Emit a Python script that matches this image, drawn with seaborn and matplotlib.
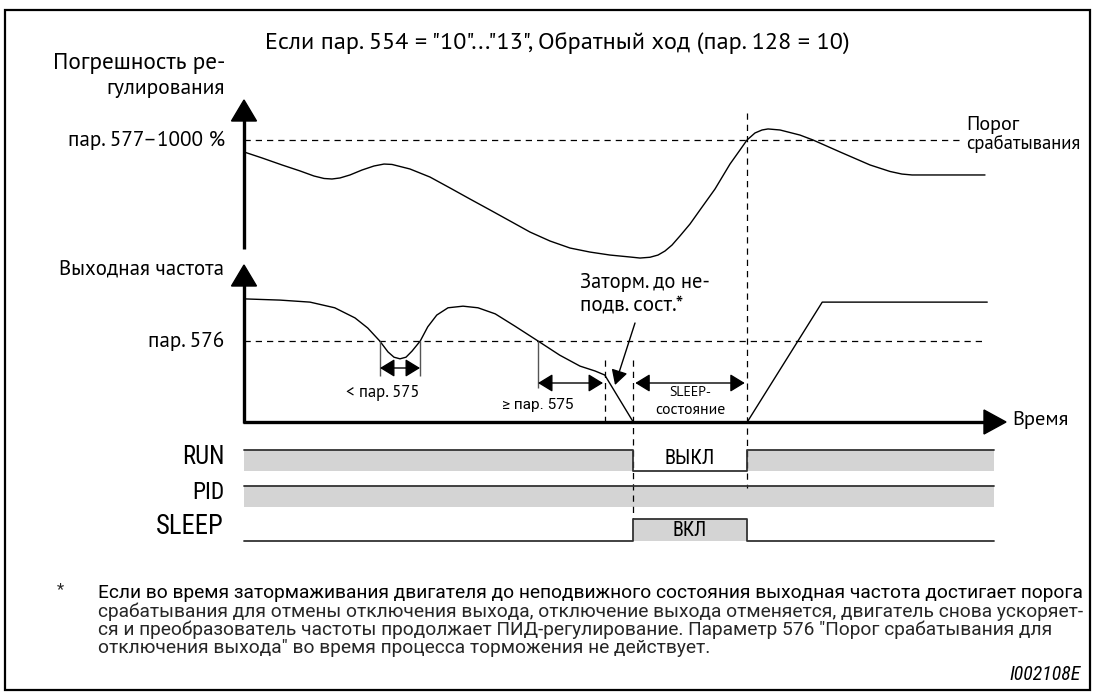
import matplotlib
matplotlib.use("Agg")
import matplotlib.pyplot as plt
from matplotlib.patches import Polygon, Rectangle
from matplotlib import font_manager
import seaborn as sns

# ---------------- data ----------------
dev_time = [0, 2.4, 5.07, 7.47, 9.33, 10.67, 11.73, 12.8, 14.13, 15.73, 17.33, 18.67, 19.73, 22.13,
            24.8, 27.47, 30.13, 32.8, 35.47, 38.13, 40.8, 43.47, 46.13, 48.8, 51.47, 52.8, 54.13,
            55.2, 56.13, 57.07, 58.13, 59.47, 60.8, 62.8, 64.8, 66.13, 67.07, 68.13, 69.07, 69.87,
            71.47, 74.13, 75.87, 79.47, 83.47, 86.13, 87.73, 89.07, 98.8]
dev_value = [90.8, 86.2, 80.8, 76.2, 72.3, 70.4, 70.0, 70.8, 73.1, 76.9, 80.0, 81.5, 81.2, 77.7,
             71.5, 63.1, 54.6, 46.2, 37.7, 29.2, 22.3, 16.9, 13.8, 11.5, 10.0, 9.2, 9.8,
             11.5, 14.6, 19.2, 26.2, 35.4, 46.2, 62.3, 81.5, 92.3, 100, 105.4, 107.7, 108.5,
             107.7, 103.8, 100, 90.8, 80.8, 75.8, 73.8, 73.1, 73.1]
freq_time = [0, 4.8, 8.8, 12.1, 14.8, 16.5, 18.1, 19.2, 20.0, 20.8, 21.6, 22.4, 23.5, 24.5, 25.7,
             27.2, 29.2, 31.2, 33.5, 36.1, 39.2, 42.1, 44.8, 46.8, 48.1, 51.9, 67.1, 77.1, 99.1]
freq_value = [30.4, 30.1, 29.6, 28.2, 25.7, 23.2, 20.0, 17.3, 16.0, 15.6, 16.0, 17.5, 20.0, 23.5, 26.4,
              28.2, 28.6, 28.2, 26.7, 23.7, 20.0, 16.5, 13.8, 12.6, 11.6, 0, 0, 29.6, 29.6]
dev_threshold = 100
freq_threshold = 20
short_dip = [18.13, 23.47]
long_dip = [39.2, 47.87]
t_decel, t_stop, t_restart = 48.13, 51.87, 67.07
signal_edges = [0, 51.87, 67.07, 100]
run_state = [1, 0, 1]
pid_state = [1, 1, 1]
sleep_state = [0, 1, 0]
signal_names = ["RUN", "PID", "SLEEP"]
state_labels = ["ВЫКЛ", "", "ВКЛ"]

title = 'Если пар. 554 = "10"..."13", Обратный ход (пар. 128 = 10)'
footnote = [
    "Если во время затормаживания двигателя до неподвижного состояния выходная частота достигает порога",
    "срабатывания для отмены отключения выхода, отключение выхода отменяется, двигатель снова ускоряет-",
    "ся и преобразователь частоты продолжает ПИД-регулирование. Параметр 576 \"Порог срабатывания для",
    "отключения выхода\" во время процесса торможения не действует.",
]

# ---------------- layout ----------------
W, H = 1095, 695
T0, PXT = 244, 7.5
V0, PXV = 270, 1.3
F0, PXF = 422, 4.05

sns.set_theme(style="white")
names = {f.name for f in font_manager.fontManager.ttflist}


def pick(cands, default):
    for c in cands:
        if c in names:
            return c
    return default


MAIN = pick(["PT Sans", "Fira Sans", "Roboto"], "DejaVu Sans")
NOTE = pick(["Roboto", "Open Sans"], "DejaVu Sans")
HELVN = pick(["Roboto Condensed", "Archivo Narrow", "Fira Sans Condensed"], MAIN)
plt.rcParams["font.family"] = [MAIN, "DejaVu Sans"]

fig = plt.figure(figsize=(W / 100, H / 100), dpi=100)
fig.patch.set_facecolor("white")


def full_axes(z):
    ax = fig.add_axes([0, 0, 1, 1])
    ax.axis("off")
    ax.patch.set_alpha(0)
    ax.set_zorder(z)
    return ax


tlim = (-T0 / PXT, (W - T0) / PXT)
ax_tl = full_axes(1)
ax_dev = full_axes(2)
ax_f = full_axes(3)
ax_px = full_axes(4)

sns.lineplot(x=dev_time, y=dev_value, ax=ax_dev, color="black", linewidth=1.0,
             sort=False, estimator=None)
sns.lineplot(x=freq_time, y=freq_value, ax=ax_f, color="black", linewidth=1.0,
             sort=False, estimator=None)

DASH = dict(color="black", linewidth=0.9, linestyles=(0, (5, 4)))
ax_dev.hlines(dev_threshold, 0, (959 - T0) / PXT, **DASH)
ax_f.hlines(freq_threshold, 0, (982 - T0) / PXT, **DASH)
ax_tl.vlines(t_restart, 113, 488, **DASH)
ax_tl.vlines(t_stop, 360, 519, **DASH)
ax_tl.vlines(t_decel, 360, F0, **DASH)

ax_f.vlines(short_dip, (F0 - 376) / PXF, freq_threshold, color="#555555", linewidth=1.0)
ax_f.vlines(long_dip[0], (F0 - 388) / PXF, freq_threshold, color="#555555", linewidth=1.0)
ARW = dict(arrowstyle="<|-|>,head_length=0.9,head_width=0.55", color="black", lw=1.0,
           shrinkA=0, shrinkB=0, mutation_scale=10)
ax_f.annotate("", xy=(short_dip[0], (F0 - 368) / PXF), xytext=(short_dip[1], (F0 - 368) / PXF),
              arrowprops=ARW)
ax_f.annotate("", xy=(long_dip[0], (F0 - 383) / PXF), xytext=(long_dip[1], (F0 - 383) / PXF),
              arrowprops=ARW)
ax_tl.annotate("", xy=(t_stop + 0.3, 383), xytext=(t_restart - 0.3, 383), arrowprops=ARW)
ax_px.annotate("", xy=(615, 385), xytext=(635, 323),
               arrowprops=dict(arrowstyle="-|>,head_length=0.9,head_width=0.5", color="black",
                               lw=1.0, shrinkA=0, shrinkB=0, mutation_scale=10))

AX = dict(color="black", linewidth=2.4, solid_capstyle="butt")
ax_px.plot([T0, T0], [249, 120], **AX)
ax_px.add_patch(Polygon([(T0 - 12.5, 121), (T0 + 12.5, 121), (T0, 100)], closed=True, color="black"))
ax_px.plot([T0, T0], [F0 + 1, 285], **AX)
ax_px.add_patch(Polygon([(T0 - 12.5, 286), (T0 + 12.5, 286), (T0, 265)], closed=True, color="black"))
ax_px.plot([T0 - 1, 985], [F0, F0], **AX)
ax_px.add_patch(Polygon([(984, F0 - 12), (984, F0 + 12), (1006, F0)], closed=True, color="black"))

lanes = [(450, 471), (486, 507), (519, 541)]
for (hi, lo), states in zip(lanes, [run_state, pid_state, sleep_state]):
    xs, ys = [], []
    for i, s in enumerate(states):
        row = hi if s else lo
        xs += [signal_edges[i], signal_edges[i + 1]]
        ys += [row, row]
    ax_tl.fill_between(xs, ys, lo, color="#d4d4d4", linewidth=0)
    ax_tl.plot(xs, ys, color="#333333", linewidth=1.3)

ax_px.add_patch(Rectangle((5, 10), 1085, 680, fill=False, linewidth=1.6, edgecolor="black"))

for ax in (ax_tl, ax_dev, ax_f):
    ax.set_xlim(*tlim)
ax_px.set_xlim(0, W)
ax_px.set_ylim(H, 0)
ax_tl.set_ylim(H, 0)
ax_dev.set_ylim((V0 - H) / PXV, V0 / PXV)
ax_f.set_ylim((F0 - H) / PXF, F0 / PXF)

fig.canvas.draw()
renderer = fig.canvas.get_renderer()


def put(x, y, s, width, ha="left", va="center", size=12, fam=None, **kw):
    fam = fam or MAIN
    t = ax_px.text(x, y, s, ha=ha, va=va, fontsize=size, color="black",
                   family=[fam, "DejaVu Sans"], **kw)
    bb = t.get_window_extent(renderer)
    t.set_fontsize(size * width / bb.width)
    return t


put(557, 43, title, 585, ha="center")
put(225, 64, "Погрешность ре-", 172, ha="right")
put(225, 89, "гулирования", 118, ha="right")
put(225, 140, "пар. 577–1000 %", 158, ha="right")
put(966, 125, "Порог", 53)
put(966, 144, "срабатывания", 114)
put(224, 269, "Выходная частота", 164, ha="right")
put(224, 341, "пар. 576", 76, ha="right")
put(383, 393, "< пар. 575", 73, ha="center")
put(538, 405, "≥ пар. 575", 71, ha="center", fam=NOTE)
put(580, 283, "Заторм. до не-", 130)
put(580, 305, "подв. сост.*", 104)
put(690, 393, "SLEEP-", 42, ha="center")
put(690, 410, "состояние", 70, ha="center")
put(1012, 420, "Время", 56)
for name, (hi, lo) in zip(signal_names, lanes):
    put(224, (hi + lo) / 2 - 4, name, {"RUN": 42, "PID": 32, "SLEEP": 67}[name], ha="right",
        fam=HELVN)
put(690, 458, state_labels[0], 50, ha="center", fam=HELVN)
put(690, 531, state_labels[2], 34, ha="center", fam=HELVN)

ax_px.text(57, 590, "*", ha="left", va="center", fontsize=12, family=[NOTE, "DejaVu Sans"])
t0 = put(98, 593, footnote[0], 983, fam=NOTE)
fs = t0.get_fontsize()
for i, line in enumerate(footnote[1:], start=1):
    ax_px.text(98, 593 + 18.3 * i, line, ha="left", va="center", fontsize=fs,
               family=[NOTE, "DejaVu Sans"])
put(1081, 675, "I002108E", 71, ha="right", style="italic", fam=HELVN)

fig.savefig("out.png", dpi=100, facecolor="white")
